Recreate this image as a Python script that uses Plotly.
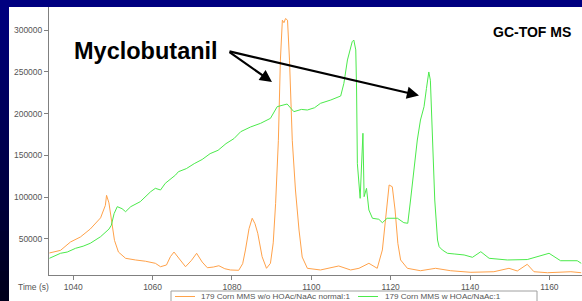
import plotly.graph_objects as go

# ---- data ----
orange_t = [1034.0, 1036.8, 1039.3, 1041.8, 1044.3, 1046.9, 1048.1, 1048.4, 1049.0, 1049.6,
            1050.4, 1051.4, 1053.2, 1055.7, 1058.2, 1060.7, 1062.0, 1063.5, 1064.5, 1065.4,
            1066.5, 1068.3, 1069.8, 1071.1, 1072.5, 1073.8, 1075.3, 1076.7, 1078.2, 1079.6,
            1081.7, 1082.7, 1083.4, 1084.3, 1085.1, 1085.8, 1086.5, 1087.6, 1088.7, 1089.7,
            1090.4, 1091.0, 1091.7, 1092.2, 1092.7, 1093.1, 1093.5, 1094.0, 1094.5, 1095.2,
            1096.0, 1096.9, 1097.7, 1099.0, 1102.3, 1104.4, 1106.9, 1109.9, 1112.0, 1114.5,
            1116.6, 1117.9, 1118.7, 1119.6, 1120.4, 1121.1, 1121.8, 1122.5, 1124.2, 1127.5,
            1131.3, 1135.1, 1140.2, 1146.0, 1149.8, 1151.9, 1154.4, 1156.1, 1159.5, 1165.4,
            1168.0]
orange_v = [32900, 36000, 46000, 52000, 61600, 75000, 90000, 102000, 93000, 72000,
            48000, 34000, 26500, 24500, 23000, 20500, 16400, 18500, 28500, 34000,
            27000, 16400, 24000, 32500, 22000, 15200, 16000, 17600, 14000, 12500,
            12100, 20000, 36500, 62000, 74500, 68000, 56500, 28400, 14500, 20500,
            45000, 92400, 168000, 264000, 312000, 309000, 314000, 312000, 264000, 168000,
            108400, 60400, 28000, 14500, 12500, 14500, 17300, 12500, 14500, 20500,
            14500, 36500, 72400, 114400, 112300, 84400, 44500, 24500, 14500, 11600,
            14500, 11600, 9700, 10400, 14500, 11300, 19300, 10400, 9200, 10400,
            9200]

green_t = [1034.0, 1036.8, 1038.5, 1040.6, 1042.5, 1044.3, 1046.9, 1048.3, 1049.0, 1049.6,
           1050.3, 1051.1, 1052.3, 1053.2, 1054.5, 1056.9, 1059.5, 1060.7, 1062.0, 1063.2,
           1065.8, 1066.5, 1068.5, 1070.5, 1072.5, 1074.5, 1076.5, 1078.5, 1080.5, 1082.2,
           1084.7, 1087.2, 1089.7, 1091.4, 1092.7, 1093.9, 1095.6, 1097.5, 1099.0, 1100.8,
           1102.3, 1104.9, 1107.4, 1108.2, 1109.1, 1110.3, 1110.7, 1111.2, 1111.4, 1111.6,
           1112.3, 1113.0, 1113.3, 1113.9, 1114.5, 1115.4, 1117.0, 1117.9, 1119.1, 1121.7,
           1123.3, 1124.3, 1125.0, 1125.9, 1126.7, 1127.5, 1128.4, 1129.0, 1129.6, 1130.0,
           1130.5, 1131.1, 1131.8, 1132.2, 1133.0, 1134.3, 1136.0, 1138.5, 1140.6, 1142.7,
           1144.8, 1149.4, 1154.4, 1157.0, 1159.9, 1162.8, 1167.0, 1168.0]
green_v = [26500, 32500, 34000, 38500, 41000, 44500, 52400, 59000, 61500, 66000,
           80000, 88400, 86000, 82400, 88400, 94400, 106300, 110400, 108400, 116400,
           126400, 130300, 134000, 140000, 145000, 152000, 156000, 164000, 170000, 178300,
           184000, 188300, 194300, 208300, 210300, 211500, 202300, 205000, 204300, 207000,
           212300, 216300, 221100, 236300, 264300, 286200, 288200, 276300, 228300, 140000,
           98400, 176400, 100400, 110400, 84400, 74500, 73300, 69200, 74500, 74500,
           69200, 68500, 96400, 136300, 168300, 192300, 208300, 230000, 249900, 240000,
           176400, 96400, 48400, 40400, 36500, 32500, 31700, 30500, 27700, 34400,
           26500, 24500, 25000, 28400, 32500, 23600, 23600, 20500]

series_names = ["179 Corn MMS w/o HOAc/NaAc normal:1", "179 Corn MMS w HOAc/NaAc:1"]
series_colors = ["#FFA24A", "#4BEA4B"]
x_ticks = [1040, 1060, 1080, 1100, 1120, 1140, 1160]
y_ticks = [50000, 100000, 150000, 200000, 250000, 300000]

# ---- geometry helpers (pixel -> paper) ----
W, H = 582, 301
ML, MR, MT, MB = 49, 0, 7, 26
PW, PH = W - ML - MR, H - MT - MB


def fx(px):
    return (px - ML) / PW


def fy(py):
    return (H - MB - py) / PH


fig = go.Figure()
fig.add_trace(go.Scatter(x=orange_t, y=orange_v, mode="lines", name=series_names[0],
                         line=dict(color=series_colors[0], width=1), showlegend=False))
fig.add_trace(go.Scatter(x=green_t, y=green_v, mode="lines", name=series_names[1],
                         line=dict(color=series_colors[1], width=1), showlegend=False))

tickfont = dict(family="Liberation Sans, Arial, sans-serif", size=8.5, color="#555555")
legfont = dict(family="Liberation Sans, Arial, sans-serif", size=8.1, color="#555555")

shapes = []
# white panel
shapes.append(dict(type="rect", xref="paper", yref="paper", x0=fx(9), x1=fx(W + 2),
                   y0=fy(H + 2), y1=fy(7), fillcolor="white", line=dict(width=0), layer="below"))
# blue frame gradient (left strip)
n = 30
for i in range(n):
    a = i / (n - 1)
    b = int(128 - a * 100)
    shapes.append(dict(type="rect", xref="paper", yref="paper", x0=fx(-2), x1=fx(9),
                       y0=fy(H * (i + 1) / n + 1), y1=fy(H * i / n),
                       fillcolor=f"rgb(0,0,{b})", line=dict(width=0), layer="below"))
# legend box
shapes.append(dict(type="rect", xref="paper", yref="paper", x0=fx(171), x1=fx(537),
                   y0=fy(305), y1=fy(291), fillcolor="white",
                   line=dict(color="#A0A0A0", width=1)))
shapes.append(dict(type="line", xref="paper", yref="paper", x0=fx(175), x1=fx(195),
                   y0=fy(296.5), y1=fy(296.5), line=dict(color=series_colors[0], width=1)))
shapes.append(dict(type="line", xref="paper", yref="paper", x0=fx(358), x1=fx(378),
                   y0=fy(296.5), y1=fy(296.5), line=dict(color=series_colors[1], width=1)))

annotations = [
    dict(text=series_names[0], xref="paper", yref="paper", x=fx(199), y=fy(296.5),
         xanchor="left", yanchor="middle", showarrow=False, font=legfont),
    dict(text=series_names[1], xref="paper", yref="paper", x=fx(383), y=fy(296.5),
         xanchor="left", yanchor="middle", showarrow=False, font=legfont),
    dict(text="Time (s)", xref="paper", yref="paper", x=fx(33), y=fy(287),
         xanchor="center", yanchor="middle", showarrow=False, font=tickfont),
    dict(text="<b>Myclobutanil</b>", xref="paper", yref="paper", x=fx(146), y=fy(51),
         xanchor="center", yanchor="middle", showarrow=False,
         font=dict(family="Liberation Sans, Arial, sans-serif", size=23.5, color="black")),
    dict(text="<b>GC-TOF MS</b>", xref="paper", yref="paper", x=fx(532), y=fy(32),
         xanchor="center", yanchor="middle", showarrow=False,
         font=dict(family="Liberation Sans, Arial, sans-serif", size=14, color="black")),
    dict(text="", xref="paper", yref="paper", x=fx(272), y=fy(82), ax=228 - 272, ay=51 - 82,
         showarrow=True, arrowhead=2, arrowsize=1.1, arrowwidth=2.2, arrowcolor="black",
         standoff=0, startstandoff=0),
    dict(text="", xref="paper", yref="paper", x=fx(419), y=fy(95.5), ax=228 - 419, ay=51 - 95.5,
         showarrow=True, arrowhead=2, arrowsize=1.1, arrowwidth=2.2, arrowcolor="black",
         standoff=0, startstandoff=0),
]

fig.update_layout(
    width=W, height=H,
    margin=dict(l=ML, r=MR, t=MT, b=MB, pad=0),
    paper_bgcolor="#000080",
    plot_bgcolor="white",
    showlegend=False,
    hovermode=False,
    shapes=shapes,
    annotations=annotations,
    xaxis=dict(range=[1033.9, 1168.2], tickvals=x_ticks, ticktext=[str(v) for v in x_ticks],
               showgrid=False, zeroline=False, showline=True, linecolor="#808080", linewidth=1,
               ticks="outside", ticklen=4, tickcolor="#808080", tickfont=tickfont),
    yaxis=dict(range=[6475, 327800], tickvals=y_ticks, ticktext=[str(v) for v in y_ticks],
               showgrid=False, zeroline=False, showline=True, linecolor="#808080", linewidth=1,
               ticks="outside", ticklen=4, tickcolor="#808080", tickfont=tickfont),
)

fig.write_html("out.html",
               config={"displayModeBar": False, "staticPlot": True},
               post_script="document.body.style.margin='0';document.body.style.padding='0';"
                           "document.body.style.overflow='hidden';")
